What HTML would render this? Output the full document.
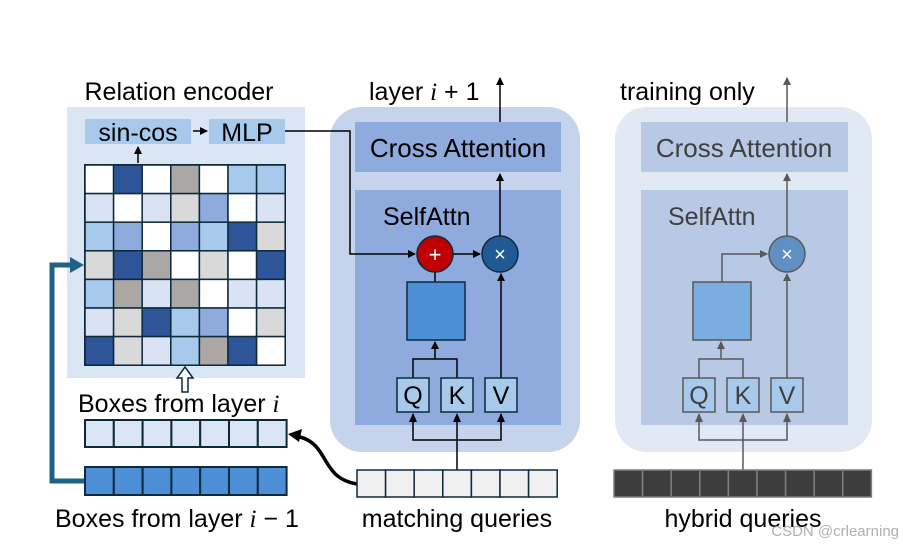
<!DOCTYPE html>
<html><head><meta charset="utf-8"><style>
html,body{margin:0;padding:0;background:#fff;}
svg{display:block;font-family:"Liberation Sans",sans-serif;}
</style></head><body>
<svg width="903" height="545" viewBox="0 0 903 545" xmlns="http://www.w3.org/2000/svg">
<defs>
<marker id="a" markerWidth="8" markerHeight="8" refX="7" refY="4" orient="auto" markerUnits="userSpaceOnUse"><path d="M0,0 L8,4 L0,8 z" fill="#000"/></marker>
<marker id="g" markerWidth="8" markerHeight="8" refX="7" refY="4" orient="auto" markerUnits="userSpaceOnUse"><path d="M0,0 L8,4 L0,8 z" fill="#595959"/></marker>
</defs>

<!-- Left panel -->
<rect x="67" y="107" width="238" height="271" fill="#dae6f4"/>
<text x="179" y="100" font-size="25" text-anchor="middle">Relation encoder</text>
<rect x="85" y="119" width="106" height="25" fill="#a6c9ec"/>
<text x="138" y="141" font-size="25" text-anchor="middle">sin-cos</text>
<rect x="209" y="119" width="76" height="25" fill="#a6c9ec"/>
<text x="247" y="141" font-size="25" text-anchor="middle">MLP</text>
<line x1="193" y1="131" x2="207" y2="131" stroke="#000" stroke-width="1.5" marker-end="url(#a)"/>
<line x1="138" y1="163" x2="138" y2="147" stroke="#000" stroke-width="1.5" marker-end="url(#a)"/>
<rect x="84" y="164" width="202" height="202" fill="#0d2a3d"/>
<g stroke="#0d2a3d" stroke-width="1.5">
<g transform="translate(85,165)">
<rect x="0" y="0" width="28.6" height="28.6" fill="#fff"/><rect x="28.6" y="0" width="28.6" height="28.6" fill="#2e5597"/><rect x="57.2" y="0" width="28.6" height="28.6" fill="#fff"/><rect x="85.8" y="0" width="28.6" height="28.6" fill="#aba7a5"/><rect x="114.4" y="0" width="28.6" height="28.6" fill="#fff"/><rect x="143" y="0" width="28.6" height="28.6" fill="#a6c9ec"/><rect x="171.6" y="0" width="28.6" height="28.6" fill="#a6c9ec"/>
<rect x="0" y="28.6" width="28.6" height="28.6" fill="#dae3f3"/><rect x="28.6" y="28.6" width="28.6" height="28.6" fill="#fff"/><rect x="57.2" y="28.6" width="28.6" height="28.6" fill="#dae3f3"/><rect x="85.8" y="28.6" width="28.6" height="28.6" fill="#d9d9d9"/><rect x="114.4" y="28.6" width="28.6" height="28.6" fill="#8faadc"/><rect x="143" y="28.6" width="28.6" height="28.6" fill="#fff"/><rect x="171.6" y="28.6" width="28.6" height="28.6" fill="#dae3f3"/>
<rect x="0" y="57.2" width="28.6" height="28.6" fill="#a6c9ec"/><rect x="28.6" y="57.2" width="28.6" height="28.6" fill="#8faadc"/><rect x="57.2" y="57.2" width="28.6" height="28.6" fill="#fff"/><rect x="85.8" y="57.2" width="28.6" height="28.6" fill="#8faadc"/><rect x="114.4" y="57.2" width="28.6" height="28.6" fill="#a6c9ec"/><rect x="143" y="57.2" width="28.6" height="28.6" fill="#2e5597"/><rect x="171.6" y="57.2" width="28.6" height="28.6" fill="#d9d9d9"/>
<rect x="0" y="85.8" width="28.6" height="28.6" fill="#d9d9d9"/><rect x="28.6" y="85.8" width="28.6" height="28.6" fill="#2e5597"/><rect x="57.2" y="85.8" width="28.6" height="28.6" fill="#aba7a5"/><rect x="85.8" y="85.8" width="28.6" height="28.6" fill="#fff"/><rect x="114.4" y="85.8" width="28.6" height="28.6" fill="#d9d9d9"/><rect x="143" y="85.8" width="28.6" height="28.6" fill="#fff"/><rect x="171.6" y="85.8" width="28.6" height="28.6" fill="#2e5597"/>
<rect x="0" y="114.4" width="28.6" height="28.6" fill="#a6c9ec"/><rect x="28.6" y="114.4" width="28.6" height="28.6" fill="#aba7a5"/><rect x="57.2" y="114.4" width="28.6" height="28.6" fill="#dae3f3"/><rect x="85.8" y="114.4" width="28.6" height="28.6" fill="#aba7a5"/><rect x="114.4" y="114.4" width="28.6" height="28.6" fill="#fff"/><rect x="143" y="114.4" width="28.6" height="28.6" fill="#dae3f3"/><rect x="171.6" y="114.4" width="28.6" height="28.6" fill="#dae3f3"/>
<rect x="0" y="143" width="28.6" height="28.6" fill="#dae3f3"/><rect x="28.6" y="143" width="28.6" height="28.6" fill="#d9d9d9"/><rect x="57.2" y="143" width="28.6" height="28.6" fill="#2e5597"/><rect x="85.8" y="143" width="28.6" height="28.6" fill="#a6c9ec"/><rect x="114.4" y="143" width="28.6" height="28.6" fill="#8faadc"/><rect x="143" y="143" width="28.6" height="28.6" fill="#fff"/><rect x="171.6" y="143" width="28.6" height="28.6" fill="#d9d9d9"/>
<rect x="0" y="171.6" width="28.6" height="28.6" fill="#2e5597"/><rect x="28.6" y="171.6" width="28.6" height="28.6" fill="#d9d9d9"/><rect x="57.2" y="171.6" width="28.6" height="28.6" fill="#dae3f3"/><rect x="85.8" y="171.6" width="28.6" height="28.6" fill="#a6c9ec"/><rect x="114.4" y="171.6" width="28.6" height="28.6" fill="#aba7a5"/><rect x="143" y="171.6" width="28.6" height="28.6" fill="#2e5597"/><rect x="171.6" y="171.6" width="28.6" height="28.6" fill="#fff"/>
</g></g>
<path d="M182,392 L182,378 L177,378 L185,367 L193,378 L188,378 L188,392 z" fill="#fff" stroke="#0d2a3d" stroke-width="1.5"/>
<text x="78" y="412" font-size="25">Boxes from layer <tspan font-family="Liberation Serif" font-style="italic">i</tspan></text>
<g stroke="#0d2a3d" stroke-width="2" fill="#dae6f4">
<rect x="85" y="420" width="28.8" height="27"/><rect x="113.8" y="420" width="28.8" height="27"/><rect x="142.6" y="420" width="28.8" height="27"/><rect x="171.4" y="420" width="28.8" height="27"/><rect x="200.2" y="420" width="28.8" height="27"/><rect x="229" y="420" width="28.8" height="27"/><rect x="257.8" y="420" width="28.8" height="27"/>
</g>
<g stroke="#0d2a3d" stroke-width="2" fill="#4d8fd6">
<rect x="85" y="467" width="28.8" height="28"/><rect x="113.8" y="467" width="28.8" height="28"/><rect x="142.6" y="467" width="28.8" height="28"/><rect x="171.4" y="467" width="28.8" height="28"/><rect x="200.2" y="467" width="28.8" height="28"/><rect x="229" y="467" width="28.8" height="28"/><rect x="257.8" y="467" width="28.8" height="28"/>
</g>
<text x="55" y="527" font-size="25">Boxes from layer <tspan font-family="Liberation Serif" font-style="italic">i</tspan> − 1</text>
<polyline points="84,481 52,481 52,265 72,265" fill="none" stroke="#1f6287" stroke-width="5"/>
<path d="M70,257 L84,265 L70,273 z" fill="#1f6287"/>
<path d="M357,484 C320,478 330,445 300,437" fill="none" stroke="#000" stroke-width="3.5"/>
<path d="M288,434 L302,429 L299,442 z" fill="#000"/>

<!-- Middle panel -->
<rect x="330" y="107" width="250" height="345" rx="32" fill="#c5d4ec"/>
<rect x="355" y="122" width="206" height="50" fill="#8faadc"/>
<text x="458" y="157" font-size="26" text-anchor="middle">Cross Attention</text>
<rect x="355" y="190" width="206" height="235" fill="#8faadc"/>
<text x="383" y="225" font-size="25">SelfAttn</text>
<text x="369" y="100" font-size="25">layer <tspan font-family="Liberation Serif" font-style="italic">i</tspan> + 1</text>
<line x1="500" y1="122" x2="500" y2="78" stroke="#000" stroke-width="1.5" marker-end="url(#a)"/>
<polyline points="285,131 350,131 350,254 415,254" fill="none" stroke="#000" stroke-width="1.5" marker-end="url(#a)"/>
<line x1="453" y1="254" x2="480" y2="254" stroke="#000" stroke-width="1.5" marker-end="url(#a)"/>
<line x1="500" y1="236" x2="500" y2="174" stroke="#000" stroke-width="1.5" marker-end="url(#a)"/>
<line x1="435" y1="272" x2="435" y2="282" stroke="#000" stroke-width="1.5"/>
<circle cx="435" cy="254" r="18" fill="#c00000" stroke="#0d2a3d" stroke-width="1.5"/>
<text x="435" y="262" font-size="22" fill="#fff" text-anchor="middle">+</text>
<circle cx="500" cy="254" r="18" fill="#1f5a94" stroke="#0d2a3d" stroke-width="1.5"/>
<text x="500" y="261" font-size="20" fill="#fff" text-anchor="middle">×</text>
<rect x="407" y="282" width="58" height="58" fill="#4d8fd6" stroke="#0d2a3d" stroke-width="1.5"/>
<polyline points="413,378 413,359 457,359 457,378" fill="none" stroke="#000" stroke-width="1.5"/>
<line x1="435" y1="359" x2="435" y2="342" stroke="#000" stroke-width="1.5" marker-end="url(#a)"/>
<line x1="501" y1="378" x2="501" y2="274" stroke="#000" stroke-width="1.5" marker-end="url(#a)"/>
<g fill="#a6c9ec" stroke="#0d2a3d" stroke-width="1.5">
<rect x="397" y="378" width="32" height="34"/><rect x="441" y="378" width="32" height="34"/><rect x="485" y="378" width="32" height="34"/>
</g>
<g font-size="25" text-anchor="middle"><text x="413" y="404">Q</text><text x="457" y="404">K</text><text x="501" y="404">V</text></g>
<polyline points="413,414 413,440 501,440 501,414" fill="none" stroke="#000" stroke-width="1.5"/>
<path d="M409,422 L413,413 L417,422 z M497,422 L501,413 L505,422 z M453,422 L457,413 L461,422 z"/>
<line x1="457" y1="470" x2="457" y2="420" stroke="#000" stroke-width="1.5"/>
<g stroke="#0d2a3d" stroke-width="1.5" fill="#f0f0f0">
<rect x="357" y="470" width="28.6" height="27"/><rect x="385.6" y="470" width="28.6" height="27"/><rect x="414.2" y="470" width="28.6" height="27"/><rect x="442.8" y="470" width="28.6" height="27"/><rect x="471.4" y="470" width="28.6" height="27"/><rect x="500" y="470" width="28.6" height="27"/><rect x="528.6" y="470" width="28.6" height="27"/>
</g>
<text x="457" y="527" font-size="25" text-anchor="middle">matching queries</text>

<!-- Right panel -->
<rect x="615" y="107" width="257" height="345" rx="32" fill="#e1e9f5"/>
<rect x="641" y="122" width="207" height="50" fill="#b8c9e6"/>
<text x="744" y="157" font-size="26" text-anchor="middle" fill="#404040">Cross Attention</text>
<rect x="641" y="190" width="207" height="235" fill="#b8c9e6"/>
<text x="668" y="225" font-size="25" fill="#404040">SelfAttn</text>
<text x="620" y="100" font-size="25">training only</text>
<line x1="787" y1="122" x2="787" y2="78" stroke="#595959" stroke-width="1.5" marker-end="url(#g)"/>
<line x1="787" y1="236" x2="787" y2="174" stroke="#595959" stroke-width="1.5" marker-end="url(#g)"/>
<polyline points="722,282 722,254 767,254" fill="none" stroke="#595959" stroke-width="1.5" marker-end="url(#g)"/>
<circle cx="787" cy="254" r="18" fill="#5f8fc3" stroke="#595959" stroke-width="1.5"/>
<text x="787" y="261" font-size="20" fill="#fff" text-anchor="middle">×</text>
<rect x="693" y="282" width="58" height="58" fill="#7aade0" stroke="#595959" stroke-width="1.5"/>
<polyline points="699,378 699,359 743,359 743,378" fill="none" stroke="#595959" stroke-width="1.5"/>
<line x1="721" y1="359" x2="721" y2="342" stroke="#595959" stroke-width="1.5" marker-end="url(#g)"/>
<line x1="787" y1="378" x2="787" y2="274" stroke="#595959" stroke-width="1.5" marker-end="url(#g)"/>
<g fill="#a6c9ec" stroke="#595959" stroke-width="1.5">
<rect x="683" y="378" width="32" height="34"/><rect x="727" y="378" width="32" height="34"/><rect x="771" y="378" width="32" height="34"/>
</g>
<g font-size="25" text-anchor="middle" fill="#404040"><text x="699" y="404">Q</text><text x="743" y="404">K</text><text x="787" y="404">V</text></g>
<polyline points="699,414 699,440 787,440 787,414" fill="none" stroke="#595959" stroke-width="1.5"/>
<path d="M695,422 L699,413 L703,422 z M783,422 L787,413 L791,422 z M739,422 L743,413 L747,422 z" fill="#595959"/>
<line x1="743" y1="470" x2="743" y2="420" stroke="#595959" stroke-width="1.5"/>
<g stroke="#7f7f7f" stroke-width="1.5" fill="#3d3d3d">
<rect x="614" y="470" width="28.6" height="27"/><rect x="642.6" y="470" width="28.6" height="27"/><rect x="671.2" y="470" width="28.6" height="27"/><rect x="699.8" y="470" width="28.6" height="27"/><rect x="728.4" y="470" width="28.6" height="27"/><rect x="757" y="470" width="28.6" height="27"/><rect x="785.6" y="470" width="28.6" height="27"/><rect x="814.2" y="470" width="28.6" height="27"/><rect x="842.8" y="470" width="28.6" height="27"/>
</g>
<text x="743" y="527" font-size="25" text-anchor="middle">hybrid queries</text>
<text x="899" y="536" font-size="15" text-anchor="end" fill="#b0b0b0">CSDN @crlearning</text>
</svg>
</body></html>
